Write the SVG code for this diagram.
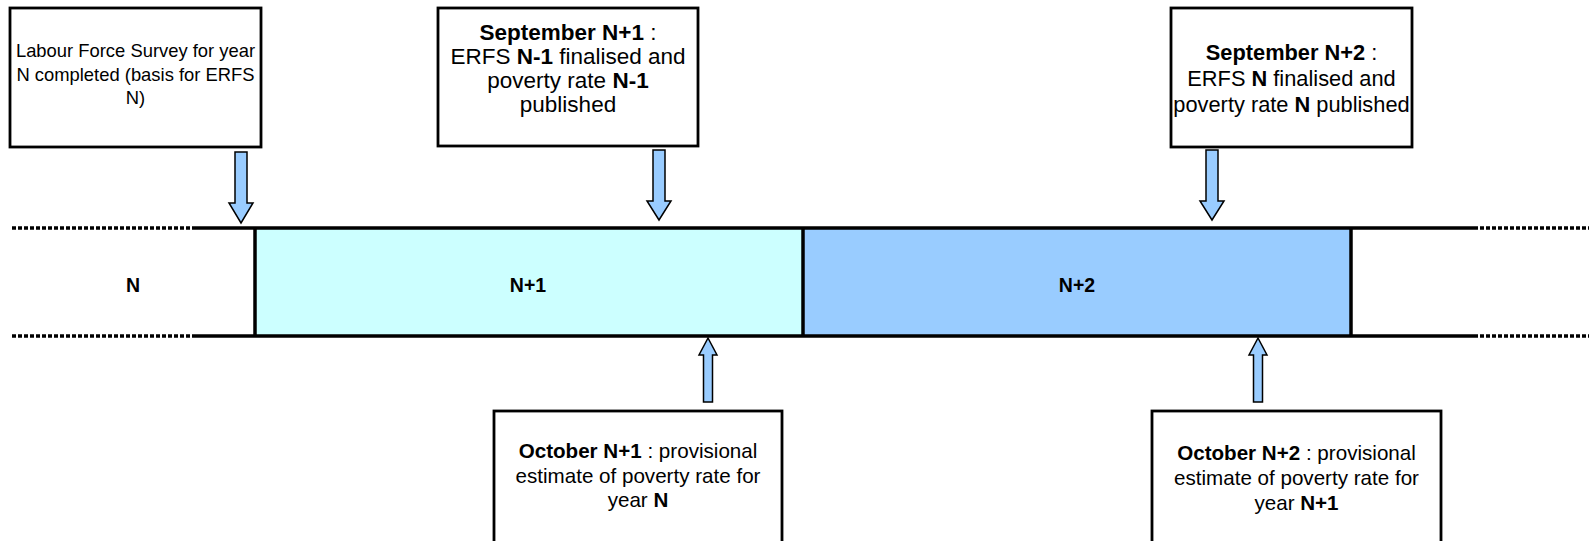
<svg xmlns="http://www.w3.org/2000/svg" width="1589" height="541" viewBox="0 0 1589 541">
<style>
.box{fill:#fff;stroke:#000;stroke-width:2.8}
.t{font-family:"Liberation Sans",Arial,sans-serif;fill:#000;text-anchor:middle}
.s18{font-size:18.4px}
.s22{font-size:22.5px}
.s21{font-size:21.8px}
.s20{font-size:20.6px}
.b{font-weight:bold}
.arr{fill:#99CCFF;stroke:#000;stroke-width:1.5}
.solid{stroke:#000;stroke-width:3.5;fill:none}
.dot{stroke:#000;stroke-width:3.5;stroke-dasharray:4 2;fill:none}
.lbl{font-family:"Liberation Sans",Arial,sans-serif;font-size:19.5px;font-weight:bold;text-anchor:middle}
</style>
<rect width="1589" height="541" fill="#fff"/>
<g id="timeline">
<rect x="255" y="228" width="548" height="108" fill="#CCFFFF"/>
<rect x="803" y="228" width="548" height="108" fill="#99CCFF"/>
<line class="dot" x1="12" y1="228" x2="196" y2="228"/>
<line class="dot" x1="12" y1="336" x2="196" y2="336"/>
<line class="dot" x1="1474" y1="228" x2="1589" y2="228"/>
<line class="dot" x1="1474" y1="336" x2="1589" y2="336"/>
<line class="solid" x1="196" y1="228" x2="1474" y2="228"/>
<line class="solid" x1="196" y1="336" x2="1474" y2="336"/>
<line class="solid" x1="255" y1="228" x2="255" y2="336"/>
<line class="solid" x1="803" y1="228" x2="803" y2="336"/>
<line class="solid" x1="1351" y1="228" x2="1351" y2="336"/>
<text class="lbl" x="133" y="292">N</text>
<text class="lbl" x="528" y="292">N+1</text>
<text class="lbl" x="1077" y="292">N+2</text>
</g>
<g id="lfs">
<rect class="box" x="10" y="8" width="251" height="139"/>
<text class="t s18" x="135.5" y="56.5">Labour Force Survey for year</text>
<text class="t s18" x="135.5" y="80.5">N completed (basis for ERFS</text>
<text class="t s18" x="135.5" y="104">N)</text>
</g>
<g id="sep1">
<rect class="box" x="438" y="8" width="260" height="138"/>
<text class="t s22" x="568" y="40"><tspan class="b">September N+1</tspan> :</text>
<text class="t s22" x="568" y="64">ERFS <tspan class="b">N-1</tspan> finalised and</text>
<text class="t s22" x="568" y="88">poverty rate <tspan class="b">N-1</tspan></text>
<text class="t s22" x="568" y="111.5">published</text>
</g>
<g id="sep2">
<rect class="box" x="1171" y="8" width="241" height="139"/>
<text class="t s21" x="1291.5" y="60"><tspan class="b">September N+2</tspan> :</text>
<text class="t s21" x="1291.5" y="85.5">ERFS <tspan class="b">N</tspan> finalised and</text>
<text class="t s21" x="1291.5" y="112">poverty rate <tspan class="b">N</tspan> published</text>
</g>
<g id="oct1">
<rect class="box" x="494" y="411" width="288" height="150"/>
<text class="t s20" x="638" y="458">
<tspan class="b">October N+1</tspan> : provisional</text>
<text class="t s20" x="638" y="482.5">estimate of poverty rate for</text>
<text class="t s20" x="638" y="507">year <tspan class="b">N</tspan></text>
</g>
<g id="oct2">
<rect class="box" x="1152" y="411" width="289" height="150"/>
<text class="t s20" x="1296.5" y="459.5"><tspan class="b">October N+2</tspan> : provisional</text>
<text class="t s20" x="1296.5" y="485">estimate of poverty rate for</text>
<text class="t s20" x="1296.5" y="509.5">year <tspan class="b">N+1</tspan></text>
</g>
<g id="connectors">
<path class="arr" d="M235,152 H247 V203 H253 L241,223 L229,203 H235 Z"/>
<path class="arr" d="M653,150 H665 V201 H671 L659,220 L647,201 H653 Z"/>
<path class="arr" d="M1206,150 H1218 V201 H1224 L1212,220 L1200,201 H1206 Z"/>
<path class="arr" d="M703.5,402 H712.5 V355 H717 L708,338 L699,355 H703.5 Z"/>
<path class="arr" d="M1253.5,402 H1262.5 V355 H1267 L1258,338 L1249,355 H1253.5 Z"/>
</g>
</svg>
